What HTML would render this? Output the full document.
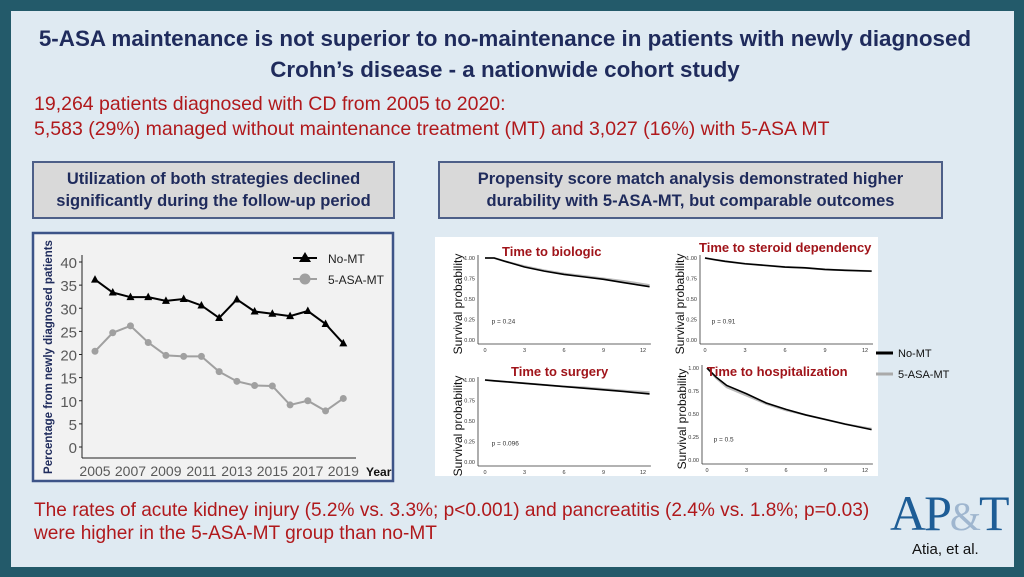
<!DOCTYPE html>
<html><head><meta charset="utf-8">
<style>
body{margin:0;width:1024px;height:577px;overflow:hidden;background:#235a6a;font-family:"Liberation Sans",sans-serif;}
#inner{position:absolute;left:11px;top:11px;width:1003px;height:556px;background:#dfeaf2;}
.t{position:absolute;white-space:nowrap;}
.title{color:#1f2b5c;font-weight:bold;font-size:22.4px;text-align:center;width:1010px;left:0;}
.red{color:#b0191c;font-size:19.5px;}
.gbox{position:absolute;background:#d9d9d9;border:2px solid #4d5f88;color:#1f2b5c;font-weight:bold;font-size:16.5px;text-align:center;line-height:22px;box-sizing:border-box;padding-top:5px;}
</style></head><body>
<div id="inner"></div>
<div class="t title" style="top:26px">5-ASA maintenance is not superior to no-maintenance in patients with newly diagnosed</div>
<div class="t title" style="top:57px">Crohn’s disease - a nationwide cohort study</div>
<div class="t red" style="left:34px;top:93px">19,264 patients diagnosed with CD from 2005 to 2020:</div>
<div class="t red" style="left:34px;top:118px">5,583 (29%) managed without maintenance treatment (MT) and 3,027 (16%) with 5-ASA MT</div>
<div class="gbox" style="left:32px;top:161px;width:363px;height:58px">Utilization of both strategies declined<br>significantly during the follow-up period</div>
<div class="gbox" style="left:438px;top:161px;width:505px;height:58px">Propensity score match analysis demonstrated higher<br>durability with 5-ASA-MT, but comparable outcomes</div>

<svg id="lc" style="position:absolute;left:0;top:0" width="1024" height="577">
<rect x="33" y="233" width="360" height="248" fill="#f2f2f2" stroke="#3d5488" stroke-width="2.5"/>
</svg>
<svg id="km" style="position:absolute;left:0;top:0" width="1024" height="577">
<rect x="435" y="237" width="443" height="239" fill="#ffffff"/>
</svg>

<div class="t" style="left:34px;top:499px;color:#b0191c;font-size:19.1px;line-height:23px">The rates of acute kidney injury (5.2% vs. 3.3%; p&lt;0.001) and pancreatitis (2.4% vs. 1.8%; p=0.03)<br>were higher in the 5-ASA-MT group than no-MT</div>
<div class="t" style="left:890px;top:484px;font-family:'Liberation Serif',serif;font-size:50px;color:#1e5d96;letter-spacing:-2px">AP<span style="color:#9fb6cf;font-size:40px">&amp;</span>T</div>
<div class="t" style="left:912px;top:541px;font-size:15px;color:#111">Atia, et al.</div>

<script>
const years=[2005,2006,2007,2008,2009,2010,2011,2012,2013,2014,2015,2016,2017,2018,2019];
const noMT=[36.2,33.4,32.4,32.4,31.6,32.0,30.6,27.9,31.9,29.3,28.8,28.3,29.4,26.6,22.4];
const asaMT=[20.7,24.7,26.2,22.6,19.8,19.6,19.6,16.3,14.2,13.3,13.2,9.1,10.0,7.8,10.5];
const yTicks=[0,5,10,15,20,25,30,35,40];
const xTicks=[2005,2007,2009,2011,2013,2015,2017,2019];
const NS='http://www.w3.org/2000/svg';
function mk(p,tag,a,txt){const e=document.createElementNS(NS,tag);for(const k in a)e.setAttribute(k,a[k]);if(txt!=null)e.textContent=txt;p.appendChild(e);return e;}
const lc=document.getElementById('lc');
const X=y=>95+(y-2005)*(343.3-95)/14;
const Y=v=>447-v*185/40;
let e;
e=mk(lc,'line',{x1:82,y1:255,x2:82,y2:458,stroke:'#222','stroke-width':1});

e=mk(lc,'line',{x1:82,y1:458,x2:356,y2:458,stroke:'#222','stroke-width':1});

yTicks.forEach(v=>{
 e=mk(lc,'text',{x:77,y:Y(v)+6,'text-anchor':'end','font-size':15,fill:'#595959'},v);
 
 mk(lc,'line',{x1:79,y1:Y(v),x2:82,y2:Y(v),stroke:'#222'});
});
xTicks.forEach(v=>{
 e=mk(lc,'text',{x:X(v),y:476,'text-anchor':'middle','font-size':14,fill:'#595959'},v);
 
});
e=mk(lc,'text',{x:366,y:476,'font-size':12,'font-weight':'bold',fill:'#111'},'Year');

e=mk(lc,'text',{x:0,y:0,'font-size':11.5,'font-weight':'bold',fill:'#1f2b5c','text-anchor':'middle',transform:'translate(52,357) rotate(-90)'},'Percentage from newly diagnosed patients');

function series(vals,col,mark,name){
 e=mk(lc,'polyline',{points:vals.map((v,i)=>X(years[i])+','+Y(v)).join(' '),fill:'none',stroke:col,'stroke-width':2});
 
 vals.forEach((v,i)=>{
  const x=X(years[i]),y=Y(v);
  if(mark==='tri')e=mk(lc,'polygon',{points:`${x},${y-4.5} ${x-4},${y+3} ${x+4},${y+3}`,fill:col});
  else e=mk(lc,'circle',{cx:x,cy:y,r:3.5,fill:col});
  
 });
}
series(asaMT,'#a0a0a0','dot','asa-mt');
series(noMT,'#000','tri','no-mt');
e=mk(lc,'line',{x1:293,y1:258,x2:317,y2:258,stroke:'#000','stroke-width':2});
mk(lc,'polygon',{points:'305,252 299,262 311,262',fill:'#000'});
e=mk(lc,'text',{x:328,y:263,'font-size':12,fill:'#222'},'No-MT');

mk(lc,'line',{x1:293,y1:279,x2:317,y2:279,stroke:'#a0a0a0','stroke-width':2});
mk(lc,'circle',{cx:305,cy:279,r:5.5,fill:'#a0a0a0'});
e=mk(lc,'text',{x:328,y:284,'font-size':12,fill:'#222'},'5-ASA-MT');


// Survival curves
const kmTimes=[0,0.7,1.5,3,4.5,6,7.5,9,10.5,12.5];
const bioNo=[1,1,0.96,0.89,0.84,0.80,0.77,0.74,0.70,0.65];
const bioAsa=[1,1,0.96,0.90,0.85,0.81,0.78,0.75,0.72,0.67];
const sterNo=[1,0.98,0.96,0.93,0.91,0.89,0.88,0.86,0.85,0.84];
const sterAsa=[1,0.98,0.96,0.93,0.91,0.89,0.88,0.86,0.85,0.84];
const surgNo=[1,0.99,0.98,0.96,0.94,0.92,0.90,0.88,0.86,0.83];
const surgAsa=[1,0.99,0.98,0.96,0.94,0.92,0.91,0.89,0.87,0.85];
const hospNo=[1,0.90,0.81,0.72,0.62,0.55,0.49,0.44,0.39,0.33];
const hospAsa=[1,0.89,0.79,0.70,0.61,0.54,0.49,0.44,0.39,0.34];
const pVals=['p = 0.24','p = 0.91','p = 0.096','p = 0.5'];
const panelTitles=['Time to biologic','Time to steroid dependency','Time to surgery','Time to hospitalization'];
const km=document.getElementById('km');
const panels=[
 {ax:478,x0:485,x12:643,y1:258,y0:340,tx:502,ty:256,no:bioNo,asa:bioAsa},
 {ax:700,x0:705,x12:865,y1:258,y0:340,tx:699,ty:252,no:sterNo,asa:sterAsa},
 {ax:478,x0:485,x12:643,y1:380,y0:462,tx:511,ty:376,no:surgNo,asa:surgAsa},
 {ax:702,x0:707,x12:865,y1:368,y0:460,tx:707,ty:376,no:hospNo,asa:hospAsa}];
panels.forEach((p,k)=>{
 const px=t=>p.x0+t*(p.x12-p.x0)/12, py=v=>p.y0-v*(p.y0-p.y1);
 mk(km,'line',{x1:p.ax,y1:p.y1-3,x2:p.ax,y2:p.y0+4,stroke:'#333','stroke-width':0.8});
 mk(km,'line',{x1:p.ax,y1:p.y0+4,x2:px(12.6),y2:p.y0+4,stroke:'#333','stroke-width':0.8});
 [0,0.25,0.5,0.75,1].forEach(v=>mk(km,'text',{x:p.ax-3,y:py(v)+2,'text-anchor':'end','font-size':5.5,fill:'#333'},v.toFixed(2)));
 [0,3,6,9,12].forEach(v=>mk(km,'text',{x:px(v),y:p.y0+12,'text-anchor':'middle','font-size':5.5,fill:'#333'},v));
 e=mk(km,'text',{x:0,y:0,'font-size':12,fill:'#111','text-anchor':'middle',transform:`translate(${p.ax-16},${(p.y0+p.y1)/2+5}) rotate(-90)`},'Survival probability');
 
 e=mk(km,'polyline',{points:p.asa.map((v,i)=>px(kmTimes[i])+','+py(v)).join(' '),fill:'none',stroke:'#bbb','stroke-width':2});
 
 e=mk(km,'polyline',{points:p.no.map((v,i)=>px(kmTimes[i])+','+py(v)).join(' '),fill:'none',stroke:'#000','stroke-width':1.6});
 
 e=mk(km,'text',{x:px(0.5),y:py(0.2),'font-size':6.5,fill:'#333'},pVals[k]);
 
 e=mk(km,'text',{x:p.tx,y:p.ty,'font-size':13,'font-weight':'bold',fill:'#a0141a'},panelTitles[k]);
 
});
mk(km,'line',{x1:876,y1:353,x2:893,y2:353,stroke:'#000','stroke-width':3});
e=mk(km,'text',{x:898,y:357,'font-size':11,fill:'#111'},'No-MT');

mk(km,'line',{x1:876,y1:374,x2:893,y2:374,stroke:'#aaa','stroke-width':3});
e=mk(km,'text',{x:898,y:378,'font-size':11,fill:'#111'},'5-ASA-MT');

</script>
</body></html>
